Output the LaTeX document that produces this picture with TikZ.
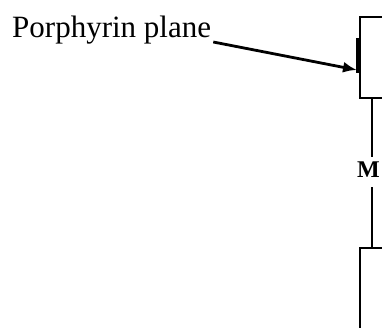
\documentclass[tikz,border=0pt]{standalone}
\usepackage{fontspec}
\setmainfont{Liberation Serif}
\usetikzlibrary{arrows.meta}
\begin{document}
\begin{tikzpicture}[x=1pt,y=-1pt,
  edge/.style={line width=2.7pt},
  lbl/.style={font=\fontsize{31}{34}\selectfont, inner sep=0pt},
  mlbl/.style={font=\fontsize{24}{26}\selectfont\bfseries, inner sep=0pt}]
\useasboundingbox (0,0) rectangle (382,327);
% top box
\draw[edge] (390,17) -- (360,17) -- (360,98) -- (390,98);
\draw[line width=4.5pt] (358,38) -- (358,73);
% bottom box
\draw[edge] (390,248) -- (360,248) -- (360,335);
% M and connectors
\node[mlbl] (m) at (368.5,170) {M};
\coordinate (t) at (372,98);
\coordinate (b) at (372,248);
\draw[edge] (t) -- (372,157);
\draw[edge] (372,187) -- (b);
% label and arrow
\node[lbl, anchor=base west] (p) at (12,37) {Porphyrin plane};
\coordinate (tip) at (357,70);
\draw[line width=2.8pt, -{Latex[length=14pt,width=11pt]}] (p.base east) ++(2,5) -- (tip);
\end{tikzpicture}
\end{document}
